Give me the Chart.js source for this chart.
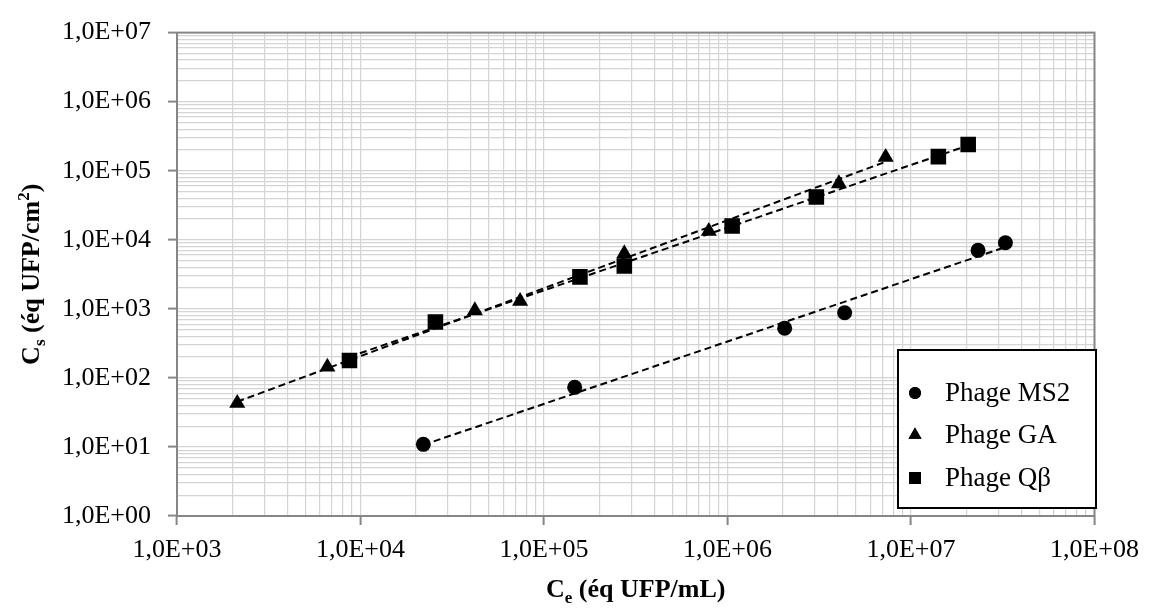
<!DOCTYPE html>
<html lang="fr">
<head>
<meta charset="UTF-8">
<title>Isothermes phages</title>
<script src="https://cdn.jsdelivr.net/npm/chart.js"></script>
<style>
  html, body { margin: 0; padding: 0; background: #fff; }
</style>
</head>
<body>
<canvas id="isoChart" width="1149" height="608"></canvas>
<script>
// values (Ce in éq UFP/mL, Cs in éq UFP/cm²)
const ms2Ce = [2.2e4, 1.47e5, 2.05e6, 4.35e6, 2.32e7, 3.27e7];
const ms2Cs = [10.9, 73, 524, 877, 7030, 9060];
const gaCe = [2130, 6600, 4.2e4, 7.41e4, 2.74e5, 7.91e5, 4.05e6, 7.28e6];
const gaCs = [43, 144, 946, 1290, 6300, 13300, 65200, 157000];
const qbCe = [8710, 2.56e4, 1.57e5, 2.74e5, 1.06e6, 3.05e6, 1.41e7, 2.05e7];
const qbCs = [179, 646, 2900, 4160, 15800, 41600, 160000, 240000];
const seriesNames = ['Phage MS2', 'Phage GA', 'Phage Qβ'];
const seriesShapes = ['circle', 'triangle', 'rect'];
const xRange = [1e3, 1e8];
const yRange = [1e0, 1e7];

const FONT = "'Liberation Serif', 'Times New Roman', serif";

function toPoints(xs, ys) {
  return xs.map((x, i) => ({ x: x, y: ys[i] }));
}

// power trendline (least squares in log-log), like the spreadsheet one
function powerFit(xs, ys) {
  const lx = xs.map(Math.log10), ly = ys.map(Math.log10);
  const n = lx.length;
  const mx = lx.reduce((a, b) => a + b, 0) / n;
  const my = ly.reduce((a, b) => a + b, 0) / n;
  let sxy = 0, sxx = 0;
  for (let i = 0; i < n; i++) {
    sxy += (lx[i] - mx) * (ly[i] - my);
    sxx += (lx[i] - mx) * (lx[i] - mx);
  }
  const b = sxy / sxx, a = my - b * mx;
  const x0 = Math.min(...xs), x1 = Math.max(...xs);
  return [x0, x1].map(x => ({ x: x, y: Math.pow(10, a + b * Math.log10(x)) }));
}

function sciLabel(v) {
  const e = Math.round(Math.log10(v));
  return '1,0E' + (e < 0 ? '-' : '+') + String(Math.abs(e)).padStart(2, '0');
}

function isDecade(v) {
  const l = Math.log10(v);
  return Math.abs(l - Math.round(l)) < 1e-9;
}

function logTicks(scale) {
  const ticks = [];
  const e0 = Math.round(Math.log10(scale.min)), e1 = Math.round(Math.log10(scale.max));
  for (let e = e0; e <= e1; e++) {
    for (let m = 1; m <= 9; m++) {
      const v = m * Math.pow(10, e);
      if (v > scale.max * 1.0001) break;
      ticks.push({ value: v, major: m === 1 });
    }
  }
  scale.ticks = ticks;
}

const xs = [ms2Ce, gaCe, qbCe];
const ys = [ms2Cs, gaCs, qbCs];

const datasets = [];
for (let i = 0; i < 3; i++) {
  datasets.push({
    label: seriesNames[i],
    data: toPoints(xs[i], ys[i]),
    pointStyle: seriesShapes[i],
    pointRadius: i === 0 ? 7.5 : (i === 1 ? 9.3 : 11),
    pointHoverRadius: 8,
    backgroundColor: '#000',
    borderColor: '#000',
    borderWidth: 0,
    showLine: false,
    order: 1
  });
}
for (let i = 0; i < 3; i++) {
  datasets.push({
    label: 'fit ' + seriesNames[i],
    data: powerFit(xs[i], ys[i]),
    showLine: true,
    pointRadius: 0,
    borderColor: '#000',
    borderWidth: 2,
    borderDash: [7, 4],
    fill: false,
    order: 2
  });
}

// sub/superscript aware text
function drawRich(ctx, parts, x, y, size) {
  const big = 'bold ' + size + 'px ' + FONT;
  const small = 'bold ' + Math.round(size * 0.65) + 'px ' + FONT;
  let w = 0;
  parts.forEach(p => { ctx.font = p.k ? small : big; w += ctx.measureText(p.t).width; });
  let cx = x - w / 2;
  parts.forEach(p => {
    ctx.font = p.k ? small : big;
    const dy = p.k === 'sub' ? size * 0.22 : (p.k === 'sup' ? -size * 0.38 : 0);
    ctx.fillText(p.t, cx, y + dy);
    cx += ctx.measureText(p.t).width;
  });
}

const decorPlugin = {
  id: 'decor',
  beforeDatasetsDraw(chart) {
    const { ctx, chartArea: a } = chart;
    ctx.save();
    ctx.strokeStyle = '#868686';
    ctx.lineWidth = 2;
    ctx.strokeRect(a.left, a.top, a.right - a.left, a.bottom - a.top);
    ctx.restore();
  },
  afterDraw(chart) {
    const { ctx, chartArea: a } = chart;
    ctx.save();
    ctx.fillStyle = '#000';
    ctx.textAlign = 'left';
    ctx.textBaseline = 'alphabetic';
    // x title
    drawRich(ctx, [{ t: 'C' }, { t: 'e', k: 'sub' }, { t: ' (éq UFP/mL)' }],
      (a.left + a.right) / 2, 597, 26);
    // y title
    ctx.save();
    ctx.translate(39, (a.top + a.bottom) / 2);
    ctx.rotate(-Math.PI / 2);
    drawRich(ctx, [{ t: 'C' }, { t: 's', k: 'sub' }, { t: ' (éq UFP/cm' }, { t: '2', k: 'sup' }, { t: ')' }],
      0, 0, 26);
    ctx.restore();

    // legend box
    const L = 898, T = 350, R = 1096, B = 508;
    ctx.fillStyle = '#fff';
    ctx.fillRect(L, T, R - L, B - T);
    ctx.strokeStyle = '#000';
    ctx.lineWidth = 2;
    ctx.strokeRect(L, T, R - L, B - T);
    const rows = [393, 435, 478];
    ctx.font = '27px ' + FONT;
    ctx.textBaseline = 'middle';
    rows.forEach((ry, i) => {
      ctx.fillStyle = '#000';
      Chart.helpers.drawPoint(ctx, {
        pointStyle: seriesShapes[i],
        radius: i === 0 ? 6 : (i === 1 ? 7.5 : 8.5),
        borderWidth: 0
      }, 915, ry);
      ctx.fill();
      ctx.fillText(seriesNames[i], 945, ry + 1);
    });
    ctx.restore();
  }
};

new Chart(document.getElementById('isoChart'), {
  type: 'scatter',
  data: { datasets: datasets },
  options: {
    responsive: false,
    animation: false,
    devicePixelRatio: 1,
    layout: { padding: { top: 26, right: 47, left: 0, bottom: 0 } },
    plugins: {
      legend: { display: false },
      tooltip: { enabled: false }
    },
    scales: {
      x: {
        type: 'logarithmic',
        min: xRange[0],
        max: xRange[1],
        afterBuildTicks: logTicks,
        afterFit: s => { s.height = 92; },
        border: { color: '#868686', width: 2 },
        grid: {
          color: '#d4d4d4',
          lineWidth: 1.2,
          tickLength: 9,
          tickColor: c => (c.tick && isDecade(c.tick.value)) ? '#868686' : 'rgba(0,0,0,0)',
          tickWidth: 2
        },
        ticks: {
          autoSkip: false,
          maxRotation: 0,
          padding: 10,
          color: '#000',
          font: { family: FONT, size: 26 },
          callback: v => isDecade(v) ? sciLabel(v) : ''
        }
      },
      y: {
        type: 'logarithmic',
        min: yRange[0],
        max: yRange[1],
        afterBuildTicks: logTicks,
        afterFit: s => { s.width = 177; },
        border: { color: '#868686', width: 2 },
        grid: {
          color: '#d4d4d4',
          lineWidth: 1.2,
          tickLength: 9,
          tickColor: c => (c.tick && isDecade(c.tick.value)) ? '#868686' : 'rgba(0,0,0,0)',
          tickWidth: 2
        },
        ticks: {
          autoSkip: false,
          padding: 17,
          color: '#000',
          font: { family: FONT, size: 26 },
          callback: v => isDecade(v) ? sciLabel(v) : ''
        }
      }
    }
  },
  plugins: [decorPlugin]
});
</script>
</body>
</html>
